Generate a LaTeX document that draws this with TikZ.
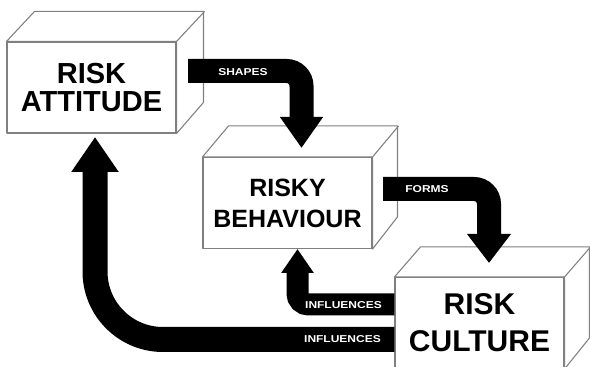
\documentclass[tikz,border=0pt]{standalone}
\usepackage{fontspec}
\setmainfont{Liberation Sans}
\newfontfamily\tagfont{Liberation Sans}[FakeStretch=1.2]
\usetikzlibrary{arrows.meta}

% one unit = one pixel of the drawing (y grows downwards)
\tikzset{
  x=0.75pt, y=-0.75pt,
  boxline/.style={draw=black!50, line width=0.8pt, fill=white, line join=round},
  face/.style={boxline, minimum width=126.75pt, minimum height=68.25pt,
    inner sep=0pt, align=center},
  flow/.style={draw=black, line width=#1},
  tag/.style={text=white, inner sep=0pt,
    font=\tagfont\bfseries\fontsize{7.5pt}{9pt}\selectfont},
}

% cube: front face node #1, depth (#2,#3) in pixels
\newcommand\cubesides[3]{%
  \draw[boxline] (#1.north west) -- ++(#2,-#3) -- ++(169,0) -- ++(0,91)
    -- (#1.south east) -- (#1.north east) -- cycle;
  \draw[boxline, fill=none] (#1.north east) -- ++(#2,-#3);
}

\begin{document}
\begin{tikzpicture}
  \useasboundingbox[fill=white] (0,0) rectangle (590,367);

  % three boxes
  \node[face, font=\bfseries\fontsize{21.75pt}{21pt}\selectfont]
    (att) at (91.5,87.5) {RISK\\ATTITUDE};
  \cubesides{att}{28}{30}

  \node[face, font=\bfseries\fontsize{18.75pt}{23.25pt}\selectfont]
    (beh) at (287.5,203) {RISKY\\BEHAVIOUR};
  \cubesides{beh}{26}{31}

  \node[face, font=\bfseries\fontsize{22.5pt}{27.75pt}\selectfont]
    (cul) at (479.5,323) {RISK\\CULTURE};
  \cubesides{cul}{26}{30}

  % connector end points
  \coordinate (shA) at (188,71);
  \coordinate (shB) at (301.5,148);
  \coordinate (foA) at (383,189);
  \coordinate (foB) at (489,263);
  \coordinate (inA) at (cul.west |- 0,304.5);
  \coordinate (inB) at (297.5,249);
  \coordinate (ioA) at (cul.west |- 0,339.5);
  \coordinate (ioB) at (95,137);

  % thick bent arrows
  \draw[flow=18pt, rounded corners=11.25pt,
    -{Triangle[width=30.75pt,length=23.25pt]}] (shA) -| (shB);
  \draw[flow=18pt, rounded corners=11.25pt,
    -{Triangle[width=31.5pt,length=21.75pt]}] (foA) -| (foB);
  \draw[flow=16.5pt, rounded corners=8.25pt,
    -{Triangle[width=23.25pt,length=18pt]}] (inA) -| (inB);
  \draw[flow=18.75pt, rounded corners=51pt,
    -{Triangle[width=33.75pt,length=26.25pt]}] (ioA) -| (ioB);

  % arrow labels
  \node[tag] (tShapes) at (243,72) {SHAPES};
  \node[tag] (tForms) at (427,189) {FORMS};
  \node[tag] (tInf1) at (343.5,305) {INFLUENCES};
  \node[tag] (tInf2) at (342.5,339.5) {INFLUENCES};
\end{tikzpicture}
\end{document}
